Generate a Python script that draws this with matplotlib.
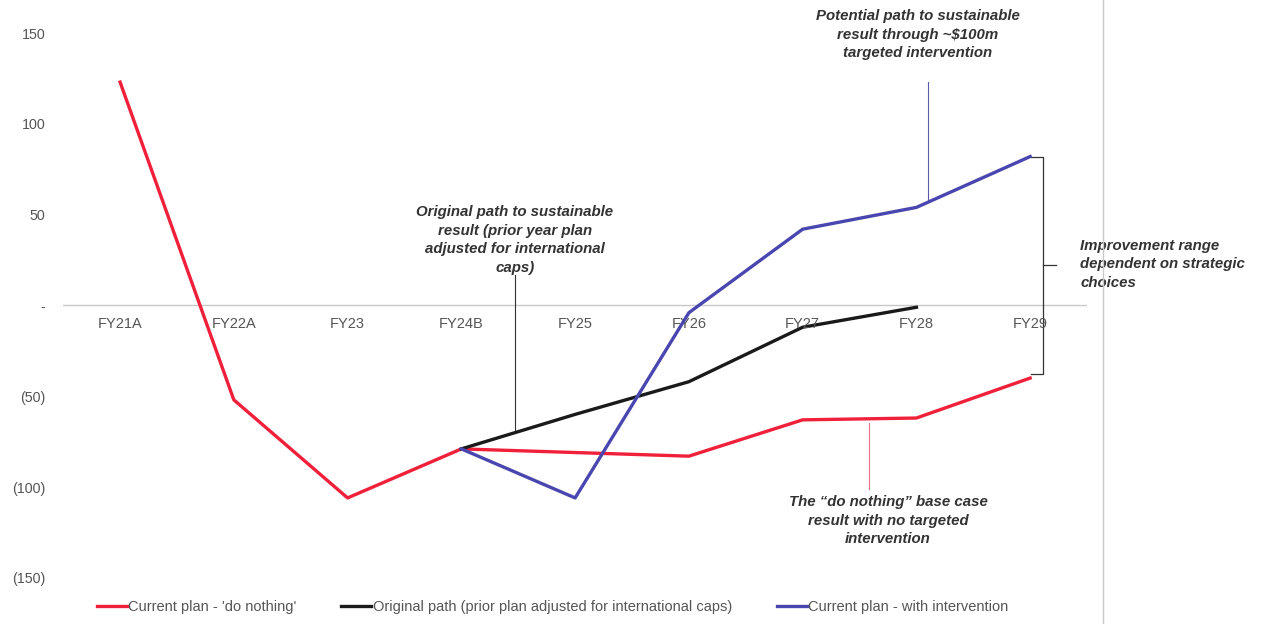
import matplotlib
matplotlib.use('Agg')
from matplotlib import pyplot as plt
from matplotlib.lines import Line2D

plt.rcParams['font.family'] = ['Liberation Sans', 'DejaVu Sans']

# categories and series
years = ['FY21A', 'FY22A', 'FY23', 'FY24B', 'FY25', 'FY26', 'FY27', 'FY28', 'FY29']
do_nothing = [123, -52, -106, -79, -81, -83, -63, -62, -40]
original = [None, None, None, -79, -60, -42, -12, -1, None]
intervention = [None, None, None, -79, -106, -4, 42, 54, 82]
yticks = [150, 100, 50, 0, -50, -100, -150]

red = '#f0203a'
black = '#1a1a1a'
blue = '#4a46b0'

fig = plt.figure(figsize=(12.64, 6.24), dpi=100)
ax = fig.add_axes([0.05, 0.074, 0.81, 0.873])

x = list(range(len(years)))


def pts(vals):
    xs = [i for i, v in zip(x, vals) if v is not None]
    ys = [v for v in vals if v is not None]
    return xs, ys


ax.axhline(0, color='#c8c8c8', lw=1, zorder=1)
l1, = ax.plot(*pts(do_nothing), color=red, lw=2.4, label="Current plan - 'do nothing'", zorder=3)
l2, = ax.plot(*pts(original), color=black, lw=2.4,
              label='Original path (prior plan adjusted for international caps)', zorder=3)
l3, = ax.plot(*pts(intervention), color=blue, lw=2.4, label='Current plan - with intervention', zorder=4)

ax.set_xlim(-0.5, 8.5)
ax.set_ylim(-150, 150)
ax.set_xticks([])
ax.set_yticks(yticks)
ax.set_yticklabels(['-' if v == 0 else ('(%d)' % -v if v < 0 else str(v)) for v in yticks])
ax.tick_params(axis='y', length=0, pad=13, labelsize=10.3, labelcolor='#555555')
for s in ax.spines.values():
    s.set_visible(False)

# category labels sit just under the zero line
for i, lab in enumerate(years):
    ax.annotate(lab, (i, 0), xytext=(0, -8), textcoords='offset points',
                ha='center', va='top', fontsize=10.5, color='#555555')

note = dict(fontsize=10.8, fontweight='bold', fontstyle='italic', color='#333333',
            linespacing=1.4, va='center')

# top note
ax.text(7.01, 149, 'Potential path to sustainable\nresult through ~$100m\ntargeted intervention',
        ha='center', clip_on=False, **note)
ax.plot([7.1, 7.1], [123, 58], color='#5a5aa8', lw=0.8)

# middle note
ax.text(3.47, 36, 'Original path to sustainable\nresult (prior year plan\nadjusted for international\ncaps)',
        ha='center', **note)
ax.plot([3.47, 3.47], [17, -69], color='#333333', lw=0.8)

# bottom note
ax.text(6.75, -118.5, 'The \u201cdo nothing\u201d base case\nresult with no targeted\nintervention',
        ha='center', **note)
ax.plot([6.58, 6.58], [-65, -101], color='#f07080', lw=0.8)

# bracket on the right
bx = 8.11
ax.plot([bx - 0.1, bx, bx, bx - 0.1], [82, 82, -38, -38], color='#333333', lw=0.9, clip_on=False)
ax.plot([bx, bx + 0.12], [22, 22], color='#333333', lw=0.9, clip_on=False)
ax.text(8.44, 22.6, 'Improvement range\ndependent on strategic\nchoices', ha='left', clip_on=False, **note)

# thin vertical divider
fig.add_artist(Line2D([0.8726, 0.8726], [0, 1], color='#c8c8c8', lw=1))

fig.legend(handles=[l1, l2, l3], loc='center left', bbox_to_anchor=(0.072, 0.027), ncol=3,
           frameon=False, fontsize=10.5, handlelength=2.05, handletextpad=0.12,
           columnspacing=3.05, labelcolor='#555555', borderaxespad=0)

fig.savefig('out.png', dpi=100)
